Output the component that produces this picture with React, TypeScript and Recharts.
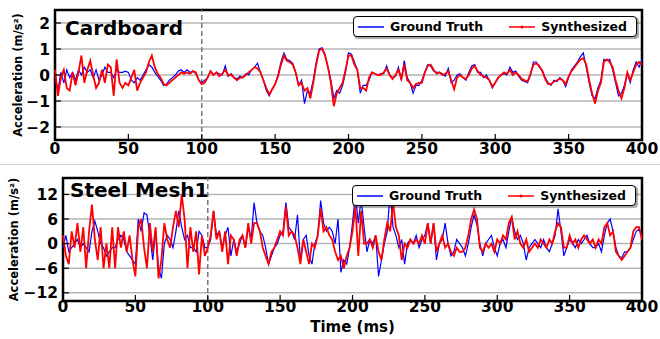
import {
  CartesianGrid,
  Legend,
  Line,
  LineChart,
  ReferenceArea,
  ReferenceLine,
  XAxis,
  YAxis,
} from "recharts";

const STEP_MS = 2;
const X_TICKS = [0, 50, 100, 150, 200, 250, 300, 350, 400];
const CARDBOARD_Y_TICKS = [-2, -1, 0, 1, 2];
const STEEL_Y_TICKS = [-12, -6, 0, 6, 12];

// Cardboard, one sample every 2 ms (0..400)
const cardboardTruth = [
  0.0, -0.6, 0.1, -0.3, 0.2, -0.1, 0.1, -0.2, 0.2, 0.0,
  0.3, 0.1, 0.2, -0.1, 0.2, -0.2, 0.0, 0.3, 0.1, 0.1,
  -0.1, 0.2, 0.1, 0.1, 0.15, 0.1, -0.2, -0.3, -0.1, -0.2,
  0.0, 0.2, 0.4, 0.3, 0.1, -0.05, -0.2, -0.4, -0.35, -0.2,
  -0.1, 0.0, 0.15, 0.2, 0.1, 0.2, 0.1, 0.15, 0.05, -0.2,
  -0.3, -0.2, -0.1, 0.15, 0.0, 0.1, 0.05, 0.0, 0.35, -0.05,
  0.05, -0.1, -0.15, -0.05, -0.1, 0.05, 0.0, 0.2, 0.3, 0.45,
  0.1, -0.2, -0.6, -0.8, -0.55, -0.35, 0.0, 0.5, 0.85, 0.6,
  0.55, 0.45, 0.1, -0.4, -0.2, -1.1, -0.6, -0.7, -0.2, 0.5,
  1.0, 1.05, 0.8, 0.3, -0.2, -0.9, -0.6, -0.7, -0.4, 0.1,
  0.85, 0.8, 0.5, 0.2, -0.7, -0.4, -0.4, -0.2, 0.1, 0.05,
  0.0, 0.05, 0.05, 0.35, 0.0, -0.1, -0.05, 0.3, -0.2, 0.55,
  -0.1, -0.3, -0.7, -0.4, -0.4, -0.2, 0.1, 0.4, 0.35, 0.15,
  0.1, 0.1, 0.05, -0.05, 0.25, -0.3, -0.2, 0.0, 0.05, -0.1,
  -0.2, 0.1, 0.35, 0.4, 0.1, 0.1, -0.1, 0.0, -0.2, -0.5,
  -0.3, -0.1, 0.0, 0.05, 0.0, 0.3, 0.1, 0.15, -0.05, -0.2,
  -0.25, -0.3, 0.0, 0.5, 0.5, 0.3, 0.2, -0.1, -0.3, -0.4,
  -0.2, -0.25, -0.1, -0.2, -0.45, -0.1, 0.2, 0.35, 0.5, 0.7,
  0.85, 0.3, -0.3, -0.8, -0.9, -0.5, -0.2, 0.6, 0.55, 0.6,
  0.2, -0.3, -0.8, -0.7, -0.4, 0.05, -0.3, 0.2, 0.5, 0.3,
  0.6,
];

const cardboardSynth = [
  0.2, -0.8, -0.1, 0.2, -0.5, -0.6, 0.1, -0.4, 0.1, 0.75,
  -0.3, 0.2, 0.55, 0.0, -0.5, -0.3, 0.2, -0.3, 0.4, 0.3,
  -0.8, 0.6, -0.3, -0.5, -0.3, -0.4, -0.1, 0.2, -0.6, -0.3,
  -0.1, 0.1, 0.5, 0.75, 0.3, 0.05, -0.1, -0.35, -0.4, -0.3,
  -0.2, -0.1, 0.0, 0.1, 0.05, 0.1, 0.05, 0.15, 0.1, -0.2,
  -0.35, -0.3, -0.1, 0.15, 0.0, 0.1, -0.05, 0.05, 0.2, 0.0,
  0.0, -0.1, -0.2, -0.1, -0.1, 0.0, 0.1, 0.2, 0.3, 0.25,
  0.1, -0.2, -0.5, -0.75, -0.55, -0.35, -0.05, 0.4, 0.75, 0.55,
  0.5, 0.4, 0.1, -0.4, -0.3, -0.6, -0.5, -0.9, -0.3, 0.4,
  0.95, 1.0, 0.75, 0.3, -0.3, -1.2, -0.7, -0.5, -0.3, 0.2,
  0.75, 0.75, 0.4, 0.2, -0.5, -0.5, -0.6, -0.1, 0.1, 0.05,
  0.0, 0.0, 0.1, 0.25, 0.0, -0.15, 0.0, 0.2, -0.15, 0.4,
  -0.2, -0.3, -0.5, -0.35, -0.3, -0.3, 0.1, 0.35, 0.4, 0.2,
  0.05, 0.1, 0.0, 0.05, 0.15, -0.2, -0.55, -0.1, 0.0, -0.1,
  -0.15, 0.0, 0.25, 0.35, 0.15, 0.0, -0.05, -0.1, -0.2, -0.45,
  -0.3, -0.1, 0.0, 0.1, 0.05, 0.2, 0.0, 0.1, 0.0, -0.15,
  -0.2, -0.25, 0.05, 0.4, 0.45, 0.35, 0.15, -0.15, -0.35, -0.35,
  -0.25, -0.2, -0.15, -0.2, -0.35, -0.05, 0.15, 0.3, 0.45, 0.6,
  0.65, 0.4, -0.2, -0.7, -1.1, -0.6, -0.3, 0.5, 0.6, 0.5,
  0.3, -0.2, -0.6, -0.9, -0.5, 0.1, -0.2, 0.1, 0.4, 0.5,
  0.4,
];

// Steel Mesh1, same sampling
const steelTruth = [
  -1, 2, -2, -1, 0, 1, -1, 0, -1, -2,
  3, 5.5, 3, 0, -1, -3, -2, -1, -1, 1,
  2, 1, -2, -3, -4, -5, 6, 3, 7.5, 7,
  2, -4, 3, -6, -8.5, 0, 2, 1, -1, 3,
  8, 4, 1, 2, -1, -1, -2, 3, 2, -1,
  -1, 1, 8, 2, 3, -1, 2, 4, -3, 1,
  -2, 0, 2, -1, 4, 1, 10, 5, 3, 2,
  -1, -5, -3, -1, 0, 2, 3, 10, 4, 3,
  1, 7, -4, 1, 2, -3, -5, 0, 2, 10.5,
  5, 3, 4, 3, 0, 6, -7, -4, -5, -1,
  5, 12, 5, 11, 4, -2, 1, 0, 2, -8,
  -4, 0, 3, 12.5, 4, 2, -1, 1, -5, 0,
  1, 0, 2, -1, 1, 2, 5, 0, 5, -4,
  0, 1, 5, 0, -3, -2, 1, 0, -1, -3,
  0, 4, 7, 4.5, 0, -3, 0, 1, 2, -1,
  -3, 0, 1, -1, 3, 6.5, 3, 1, 2, 0,
  -4, -1, 0, 1, 0, -1, 1, -1, -2, 0,
  2, 8.5, 3, -3, -1, 1, 0, -1, 1, 0,
  1, 2, 0, -1, -1, 0, -2, 2, 5, 6,
  3, -1, -3, -3.5, -2, -2, -1, 1, 3, 3.5,
  2,
];

const steelSynth = [
  2, -3, -5, 3, -1, 5, -2, 4, -6, 3,
  9.5, 1, -4, 4, -6, 0, -6, 4, -6, 4,
  -1, 3, -2, 2, -4, -8, 4, 6, -1, -6,
  5, -2, 4, -8.5, -4, 5, 1, -1, 4, 8,
  4, 12, 6, -6, 4, -2, 3, -7.5, 2, -3,
  -1, 2, 8, 1, 3, -2, 3, -5, 2, 1,
  -3, 1, 2, -1, 5, 0, 5, 5, 3, -1,
  -3, -5, -2, -1, 1, 3, 2, 9, 2, 3,
  2, -1, -5, 1, -2, -5, 0, -1, 2, 8.5,
  3, 4, 2, 1, -2, -4, -3, -6, -3, -1,
  3, 9, -3, 8, 0, 0, 1, -1, 2, -2,
  -4, 1, 5, 3, 10, 4, 2, -4, 0, -1,
  1, 0, 1, 0, 2, 0, 5, 0, 5, -2,
  0, 2, -1, 0, -2, -3, -1, -2, -2, -1,
  2, 6, 8.3, 6, -1, -2, 0, -1, 0, -2,
  1, 0, 2, 1, 5, 6.5, 1, 3, 0, -1,
  1, -2, -1, 0, -1, 1, 0, -1, 1, 0,
  3, 5, 4, -1, -1, 2, 0, 1, -1, 1,
  2, 1, 0, 1, -1, 1, 0, 4, 5, 2,
  3, -2, -3, -4, -3, -2, -1, 3, 4, 4,
  1,
];

const FONT = "'DejaVu Sans', sans-serif";
const TICK = { fill: "#000", fontSize: 15.5, fontWeight: 700, fontFamily: FONT };

const signed = (v: number) => (v < 0 ? `\u2212${Math.abs(v)}` : `${v}`);
const blank = () => "";

function minorTicks(lo: number, hi: number, step: number) {
  const out: number[] = [];
  for (let v = lo; v <= hi + 1e-9; v += step) out.push(Number(v.toFixed(2)));
  return out;
}

function LegendBox({ payload }: any) {
  return (
    <div
      style={{
        boxSizing: "border-box",
        width: "100%",
        height: "100%",
        border: "1.5px solid #000",
        borderRadius: 4,
        background: "#fff",
        boxShadow: "1.5px 1.5px 1px rgba(0,0,0,0.35)",
        display: "flex",
        alignItems: "center",
        paddingLeft: 4,
        fontFamily: FONT,
        fontWeight: 700,
        fontSize: 12.5,
        color: "#000",
      }}
    >
      {(payload || []).map((p: any, i: number) => (
        <span key={p.value} style={{ display: "flex", alignItems: "center", marginRight: i === 0 ? 26 : 0 }}>
          <svg width={26} height={6} style={{ marginRight: 6 }}>
            <line x1={0} y1={3} x2={26} y2={3} stroke={p.color} strokeWidth={1.5} />
            {p.dataKey === "synth" && <circle cx={13} cy={3} r={1.6} fill={p.color} />}
          </svg>
          {p.value}
        </span>
      ))}
    </div>
  );
}

type PanelProps = {
  title: string;
  truth: number[];
  synth: number[];
  yDomain: [number, number];
  yTicks: number[];
  minorStep: number;
  top: number;
  height: number;
  plotTop: number;
  plotLeft: number;
  axisHeight: number;
  tickGap: number;
  labelOffset: number;
  legendTop: number;
  legendLeft: number;
  titleTop: number;
  titleLeft: number;
  xLabel?: string;
};

function Panel(p: PanelProps) {
  const data = p.truth.map((v, i) => ({ t: i * STEP_MS, truth: v, synth: p.synth[i] }));
  const minor = minorTicks(p.yDomain[0], p.yDomain[1], p.minorStep);
  return (
    <div style={{ position: "absolute", left: 0, top: p.top, width: 660, height: p.height }}>
      <LineChart
        width={660}
        height={p.height}
        data={data}
        margin={{ top: p.plotTop, right: 18, bottom: 0, left: 0 }}
      >
        <CartesianGrid vertical={false} stroke="#b4b4b4" strokeWidth={1.5} />
        <YAxis
          yAxisId="lm"
          width={0}
          type="number"
          domain={p.yDomain}
          ticks={minor}
          interval={0}
          tickSize={-3}
          tickFormatter={blank}
          axisLine={false}
          tickLine={{ stroke: "#000" }}
        />
        <YAxis
          width={p.plotLeft}
          type="number"
          domain={p.yDomain}
          ticks={p.yTicks}
          interval={0}
          tickSize={-6}
          tickMargin={11}
          tickFormatter={signed}
          tick={TICK}
          axisLine={false}
          tickLine={{ stroke: "#000", strokeWidth: 1.2 }}
          label={{
            value: "Acceleration (m/s\u00b2)",
            angle: -90,
            position: "insideLeft",
            offset: p.labelOffset,
            style: { textAnchor: "middle", fontSize: 11.5, fontWeight: 700, fontFamily: FONT, fill: "#000" },
          }}
        />
        <YAxis
          yAxisId="rm"
          orientation="right"
          width={0}
          type="number"
          domain={p.yDomain}
          ticks={minor}
          interval={0}
          tickSize={-3}
          tickFormatter={blank}
          axisLine={false}
          tickLine={{ stroke: "#000" }}
        />
        <YAxis
          yAxisId="r"
          orientation="right"
          width={0}
          type="number"
          domain={p.yDomain}
          ticks={p.yTicks}
          interval={0}
          tickSize={-6}
          tickFormatter={blank}
          axisLine={false}
          tickLine={{ stroke: "#000", strokeWidth: 1.2 }}
        />
        <XAxis
          dataKey="t"
          type="number"
          domain={[0, 400]}
          ticks={X_TICKS}
          interval={0}
          height={p.axisHeight}
          tickSize={-6}
          tickMargin={p.tickGap}
          tick={TICK}
          axisLine={false}
          tickLine={{ stroke: "#000", strokeWidth: 1.2 }}
          label={
            p.xLabel
              ? {
                  value: p.xLabel,
                  position: "insideBottom",
                  offset: 7,
                  style: { fontSize: 15, fontWeight: 700, fontFamily: FONT, fill: "#000" },
                }
              : undefined
          }
        />
        <XAxis
          xAxisId="top"
          orientation="top"
          height={0}
          type="number"
          domain={[0, 400]}
          ticks={X_TICKS}
          interval={0}
          tickSize={-6}
          tickFormatter={blank}
          axisLine={false}
          tickLine={{ stroke: "#000", strokeWidth: 1.2 }}
        />
        <ReferenceLine x={100} stroke="#777" strokeWidth={1.5} strokeDasharray="5 3" />
        <Line
          dataKey="truth"
          name="Ground Truth"
          type="linear"
          stroke="#0000ff"
          strokeWidth={1.2}
          dot={false}
          isAnimationActive={false}
        />
        <Line
          dataKey="synth"
          name="Synthesized"
          type="linear"
          stroke="#ff0000"
          strokeWidth={1.8}
          dot={false}
          isAnimationActive={false}
        />
        <ReferenceArea
          x1={0}
          x2={400}
          y1={p.yDomain[0]}
          y2={p.yDomain[1]}
          fill="none"
          stroke="#000"
          strokeWidth={2.5}
          ifOverflow="visible"
        />
        <Legend
          layout="horizontal"
          verticalAlign="middle"
          align="center"
          content={<LegendBox />}
          wrapperStyle={{ top: p.legendTop, left: p.legendLeft, width: 284, height: 21 }}
        />
      </LineChart>
      <div
        style={{
          position: "absolute",
          left: p.titleLeft,
          top: p.titleTop,
          fontFamily: FONT,
          fontWeight: 700,
          fontSize: 20,
          lineHeight: "20px",
          color: "#000",
          whiteSpace: "nowrap",
        }}
      >
        {p.title}
      </div>
    </div>
  );
}

export default function App() {
  return (
    <div style={{ position: "fixed", left: 0, top: 0, width: 660, height: 339, background: "#fff", overflow: "hidden" }}>
      <Panel
        title="Cardboard"
        truth={cardboardTruth}
        synth={cardboardSynth}
        yDomain={[-2.5, 2.5]}
        yTicks={CARDBOARD_Y_TICKS}
        minorStep={0.1}
        top={0}
        height={165}
        plotTop={10}
        plotLeft={55}
        axisHeight={25}
        tickGap={9}
        labelOffset={18}
        legendTop={16}
        legendLeft={353}
        titleTop={18}
        titleLeft={65}
      />
      <div style={{ position: "absolute", left: 0, top: 164, width: 660, borderTop: "1.5px solid #d0d0d0" }} />
      <Panel
        title="Steel Mesh1"
        truth={steelTruth}
        synth={steelSynth}
        yDomain={[-14, 16]}
        yTicks={STEEL_Y_TICKS}
        minorStep={1}
        top={165}
        height={174}
        plotTop={13}
        plotLeft={63}
        axisHeight={38}
        tickGap={6}
        labelOffset={14}
        legendTop={20}
        legendLeft={352}
        titleTop={15}
        titleLeft={70}
        xLabel="Time (ms)"
      />
    </div>
  );
}
